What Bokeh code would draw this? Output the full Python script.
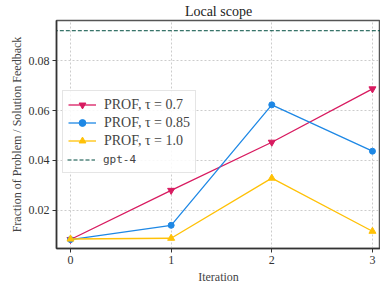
from bokeh.plotting import figure
from bokeh.models import Legend, LegendItem, FixedTicker, Range1d
from bokeh.embed import file_html
from bokeh.resources import INLINE

iterations = [0, 1, 2, 3]
prof_07 = [0.0083, 0.0280, 0.0473, 0.0687]
prof_085 = [0.0083, 0.0140, 0.0623, 0.0437]
prof_10 = [0.0085, 0.0088, 0.0329, 0.0116]
gpt4 = 0.092

SERIF = "Liberation Serif"
MONO = "DejaVu Sans Mono"

p = figure(width=380, height=286, output_backend="svg", toolbar_location=None,
           x_range=Range1d(-0.139, 3.08), y_range=Range1d(0.0047, 0.0961),
           min_border_left=56, min_border_right=0, min_border_top=20, min_border_bottom=0)
p.title.text = "Local scope"
p.title.align = "center"
p.title.text_font = SERIF
p.title.text_font_style = "normal"
p.title.text_font_size = "14px"
p.title.text_color = "#222222"
p.title.offset = 0
p.title.standoff = 3

p.xaxis.axis_label = "Iteration"
p.yaxis.axis_label = "Fraction of Problem / Solution Feedback"
for ax in (p.xaxis[0], p.yaxis[0]):
    ax.axis_label_text_font = SERIF
    ax.axis_label_text_font_style = "normal"
    ax.axis_label_text_font_size = "12px"
    ax.axis_label_text_line_height = 1.0
    ax.major_label_text_font = SERIF
    ax.major_label_text_font_size = "12px"
    ax.major_label_text_line_height = 1.0
    ax.major_label_text_color = "#333333"
    ax.axis_line_color = "#333333"
    ax.axis_line_width = 1.5
    ax.major_tick_line_color = "#333333"
    ax.major_tick_out = 4
    ax.major_tick_in = 0
    ax.minor_tick_line_color = None
    ax.major_label_standoff = 3
    ax.axis_label_standoff = 3
p.xaxis.ticker = FixedTicker(ticks=iterations)
p.yaxis.ticker = FixedTicker(ticks=[0.02, 0.04, 0.06, 0.08])
p.yaxis.major_label_orientation = "horizontal"
p.yaxis.axis_label_standoff = 2

p.grid.grid_line_color = "#cccccc"
p.grid.grid_line_dash = "2 2"
p.outline_line_color = "#555555"
p.outline_line_width = 1.5

red, blue, yellow = "#d81b60", "#1e88e5", "#ffc107"
r1 = p.line(iterations, prof_07, color=red, line_width=1.3)
m1 = p.scatter(iterations, prof_07, marker="inverted_triangle", size=7, color=red)
r2 = p.line(iterations, prof_085, color=blue, line_width=1.3)
m2 = p.scatter(iterations, prof_085, marker="circle", size=6, color=blue)
r3 = p.line(iterations, prof_10, color=yellow, line_width=1.3)
m3 = p.scatter(iterations, prof_10, marker="triangle", size=7, color=yellow)
r4 = p.line([-1, 4], [gpt4, gpt4], color="#004d40", line_dash="4 2", line_width=1)
blank = p.line(x=[], y=[], line_alpha=0)


def style(lg):
    lg.label_text_font_size = "14px"
    lg.label_height = 17
    lg.glyph_height = 17
    lg.glyph_width = 28
    lg.label_standoff = 8
    lg.spacing = 1
    lg.padding = 5
    lg.margin = 0
    lg.border_line_color = "#cccccc"


legend = Legend(items=[
    LegendItem(label="PROF, τ = 0.7", renderers=[r1, m1]),
    LegendItem(label="PROF, τ = 0.85", renderers=[r2, m2]),
    LegendItem(label="PROF, τ = 1.0", renderers=[r3, m3]),
    LegendItem(label=" ", renderers=[blank]),
], location=(6, 75))
style(legend)
legend.label_text_font = SERIF
legend.background_fill_alpha = 0.85
p.add_layout(legend)

legend2 = Legend(items=[LegendItem(label="gpt-4", renderers=[r4])], location=(6, 75))
style(legend2)
legend2.label_text_font = MONO
legend2.label_text_font_size = "11px"
legend2.border_line_alpha = 0
legend2.background_fill_alpha = 0
p.add_layout(legend2)

open("out.html", "w").write(file_html(p, INLINE))
